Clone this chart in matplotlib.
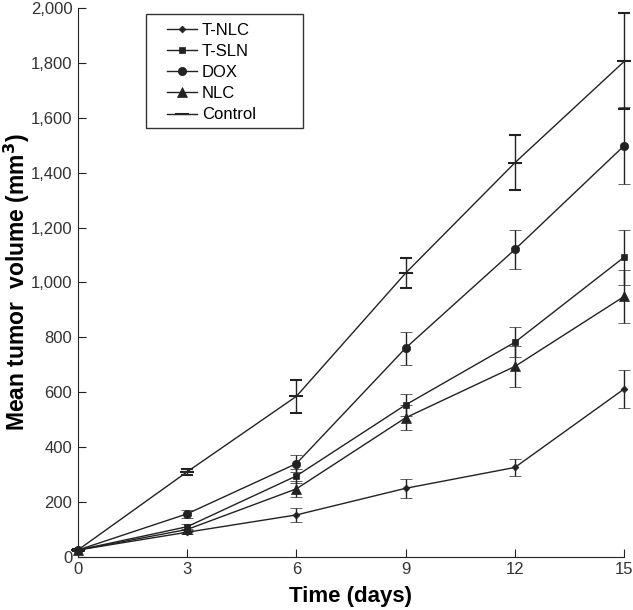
import matplotlib
matplotlib.use("Agg")
import matplotlib.pyplot as plt
from matplotlib.patches import Rectangle
from matplotlib.ticker import FuncFormatter

plt.rcParams['font.family'] = ['Liberation Sans', 'DejaVu Sans']

days = [0, 3, 6, 9, 12, 15]

# mean tumor volume (mm3) and error for each group
tnlc = [25, 90, 153, 250, 326, 612]
tnlc_err = [5, 8, 25, 35, 30, 70]
tsln = [25, 110, 295, 554, 782, 1092]
tsln_err = [5, 10, 25, 40, 55, 100]
dox = [25, 157, 340, 761, 1120, 1498]
dox_err = [5, 15, 30, 60, 70, 140]
nlc = [25, 100, 248, 507, 694, 949]
nlc_err = [5, 10, 30, 45, 75, 95]
control = [25, 310, 585, 1034, 1436, 1805]
control_err = [5, 10, 60, 55, 100, 175]

series = [
    ("T-NLC", tnlc, tnlc_err, "D", 3.5),
    ("T-SLN", tsln, tsln_err, "s", 4.5),
    ("DOX", dox, dox_err, "o", 6),
    ("NLC", nlc, nlc_err, "^", 6.5),
    ("Control", control, control_err, "_", 10),
]

fig = plt.figure(figsize=(6.33, 6.10), dpi=100)
ax = fig.add_axes([0.123, 0.087, 0.863, 0.9])

handles = []
for name, vals, err, mk, ms in series:
    c = ax.errorbar(days, vals, yerr=err, color="#222222", lw=1.0, elinewidth=1.0,
                    capsize=4, capthick=1.0, marker=mk, markersize=ms,
                    markeredgewidth=1.5 if mk == "_" else 0.5, label=name,
                    clip_on=False, zorder=3)
    handles.append(c[0])

ax.set_xlim(0, 15)
ax.set_ylim(0, 2000)
ax.set_xticks(days)
ax.set_yticks(range(0, 2001, 200))
ax.yaxis.set_major_formatter(FuncFormatter(lambda v, p: f"{int(v):,}"))
ax.tick_params(direction="in", length=6, labelsize=12, colors="#222222",
               labelcolor="#333333")
ax.tick_params(axis="x", pad=4)
ax.tick_params(axis="y", pad=4)
for s in ["top", "right"]:
    ax.spines[s].set_visible(False)
for s in ["left", "bottom"]:
    ax.spines[s].set_color("#222222")

ax.set_xlabel("Time (days)", fontsize=16, fontweight="bold", labelpad=6)
ax.set_ylabel("Mean tumor  volume (mm$^\\mathbf{3}$)", fontsize=16.5,
              fontweight="bold", va="center", ha="center")
ax.yaxis.set_label_coords(-0.111, 0.5)

# legend box drawn separately, it is wider than its text in the original
ax.add_patch(Rectangle((0.1245, 0.781), 0.2875, 0.208, transform=ax.transAxes,
                       fill=False, ec="#333333", lw=1.0, zorder=4))
ax.legend(handles=handles, labels=[s[0] for s in series], loc="upper left",
          bbox_to_anchor=(0.1625, 0.973), borderaxespad=0, borderpad=0,
          fontsize=12, frameon=False, handlelength=1.8, handletextpad=0.3,
          labelspacing=0.37)

fig.savefig("out.png", dpi=100)
